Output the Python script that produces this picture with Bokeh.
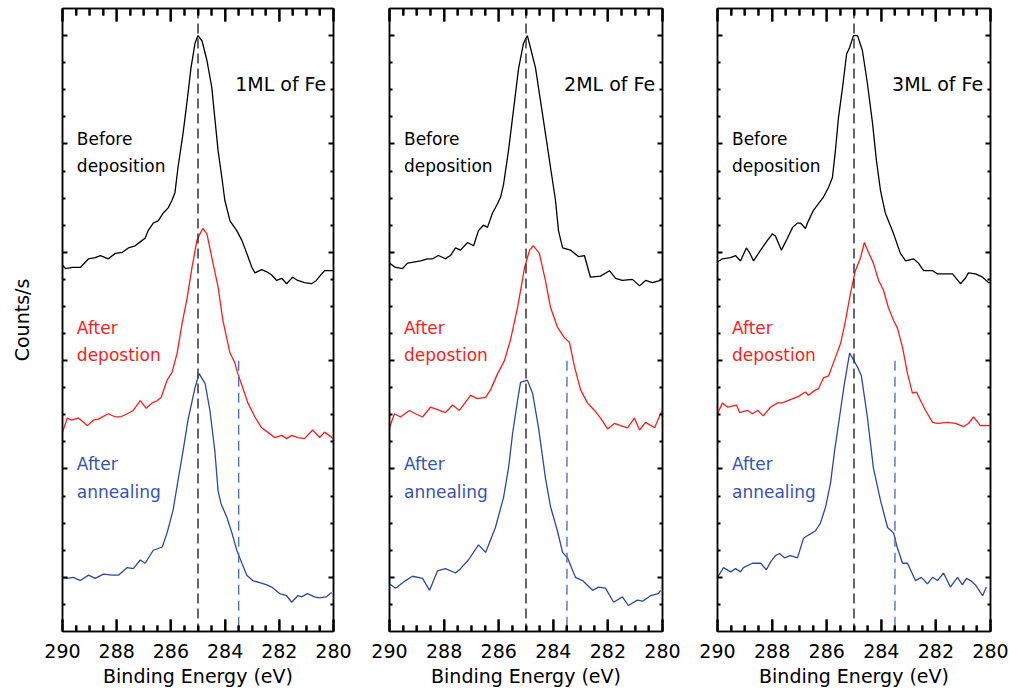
from bokeh.plotting import figure
from bokeh.layouts import row
from bokeh.models import Range1d, LinearAxis, FixedTicker, Label, Span, CustomJSTickFormatter
from bokeh.embed import file_html
from bokeh.resources import INLINE

# ---------------- data (binding energy in eV, intensity in arbitrary counts/s units) ----------------
titles = ["1ML of Fe", "2ML of Fe", "3ML of Fe"]
x_ticks = [280, 282, 284, 286, 288, 290]
peak_ref = 285.0          # black dashed reference line
shoulder_ref = 283.5      # blue dashed reference line
shoulder_top = 2.0

E1_before = [290.00, 289.89, 289.63, 289.34, 289.04, 288.79, 288.60, 288.31, 288.05, 287.79, 287.57, 287.32, 287.06, 286.95, 286.84, 286.65, 286.47, 286.29, 286.10, 285.96, 285.85, 285.74, 285.55, 285.40, 285.26, 285.11, 285.00, 284.85, 284.67, 284.49, 284.38, 284.26, 284.12, 284.01, 283.82, 283.57, 283.38, 283.20, 283.01, 282.90, 282.65, 282.46, 282.28, 282.10, 281.91, 281.73, 281.51, 281.32, 281.07, 280.81, 280.63, 280.44, 280.33, 280.00]
I1_before = [2.88, 2.85, 2.86, 2.86, 2.94, 2.95, 2.97, 2.94, 2.99, 3.00, 3.04, 3.06, 3.11, 3.13, 3.20, 3.27, 3.29, 3.36, 3.41, 3.48, 3.55, 3.78, 4.10, 4.40, 4.70, 4.93, 5.00, 4.95, 4.77, 4.52, 4.24, 3.94, 3.69, 3.48, 3.29, 3.20, 3.11, 2.99, 2.86, 2.81, 2.84, 2.82, 2.79, 2.74, 2.76, 2.71, 2.77, 2.74, 2.72, 2.71, 2.74, 2.80, 2.83, 2.83]
E1_dep = [290.00, 289.82, 289.67, 289.41, 289.08, 288.86, 288.68, 288.31, 288.05, 287.87, 287.61, 287.39, 287.13, 286.91, 286.69, 286.51, 286.36, 286.14, 285.96, 285.77, 285.59, 285.40, 285.22, 285.04, 284.93, 284.82, 284.67, 284.49, 284.26, 284.08, 283.82, 283.64, 283.53, 283.35, 283.16, 282.90, 282.65, 282.43, 282.17, 281.91, 281.73, 281.54, 281.32, 281.07, 280.77, 280.51, 280.33, 280.00]
I1_dep = [1.34, 1.47, 1.45, 1.47, 1.40, 1.45, 1.46, 1.51, 1.48, 1.48, 1.51, 1.54, 1.63, 1.56, 1.61, 1.63, 1.66, 1.82, 1.89, 2.07, 2.34, 2.58, 2.86, 3.11, 3.17, 3.22, 3.17, 2.95, 2.68, 2.37, 2.07, 1.98, 1.88, 1.75, 1.61, 1.48, 1.38, 1.34, 1.29, 1.31, 1.28, 1.31, 1.29, 1.28, 1.36, 1.29, 1.34, 1.28]
E1_ann = [290.00, 289.82, 289.60, 289.34, 289.04, 288.79, 288.49, 288.16, 287.94, 287.61, 287.39, 287.13, 286.95, 286.65, 286.32, 286.14, 285.92, 285.74, 285.55, 285.37, 285.11, 284.96, 284.74, 284.56, 284.38, 284.26, 284.15, 283.93, 283.75, 283.57, 283.38, 283.20, 282.98, 282.72, 282.46, 282.28, 281.99, 281.73, 281.54, 281.32, 281.18, 280.96, 280.70, 280.51, 280.26, 280.07]
I1_ann = [0.00, -0.01, 0.00, -0.03, 0.02, -0.01, 0.03, 0.02, 0.02, 0.09, 0.08, 0.16, 0.13, 0.25, 0.28, 0.41, 0.62, 0.89, 1.17, 1.45, 1.75, 1.88, 1.79, 1.54, 1.17, 0.80, 0.68, 0.55, 0.41, 0.25, 0.13, 0.02, -0.03, -0.05, -0.07, -0.09, -0.15, -0.17, -0.23, -0.17, -0.18, -0.15, -0.18, -0.19, -0.18, -0.14]

E2_before = [290.00, 289.78, 289.52, 289.34, 289.12, 288.86, 288.61, 288.42, 288.21, 287.95, 287.77, 287.58, 287.40, 287.14, 286.92, 286.74, 286.56, 286.41, 286.23, 286.04, 285.93, 285.82, 285.64, 285.46, 285.27, 285.09, 284.95, 284.84, 284.65, 284.47, 284.29, 284.10, 283.92, 283.81, 283.66, 283.37, 283.08, 282.86, 282.64, 282.27, 281.94, 281.72, 281.47, 281.10, 280.84, 280.62, 280.37, 280.07]
I2_before = [2.90, 2.86, 2.85, 2.90, 2.91, 2.92, 2.94, 2.94, 2.97, 2.94, 2.97, 3.04, 3.02, 3.09, 3.06, 3.20, 3.25, 3.23, 3.36, 3.45, 3.51, 3.63, 3.94, 4.31, 4.70, 4.93, 5.00, 4.89, 4.70, 4.40, 4.10, 3.78, 3.48, 3.20, 3.04, 3.02, 2.96, 2.97, 2.77, 2.78, 2.83, 2.76, 2.74, 2.75, 2.69, 2.74, 2.72, 2.74]
E2_dep = [290.00, 289.82, 289.60, 289.27, 289.05, 288.79, 288.50, 288.17, 287.95, 287.69, 287.44, 287.03, 286.78, 286.48, 286.30, 286.04, 285.79, 285.57, 285.31, 285.05, 284.87, 284.73, 284.51, 284.29, 284.10, 283.85, 283.59, 283.41, 283.22, 283.00, 282.75, 282.49, 282.27, 282.01, 281.76, 281.54, 281.28, 281.03, 280.84, 280.62, 280.29, 280.07, 280.00]
I2_dep = [1.38, 1.51, 1.48, 1.54, 1.51, 1.48, 1.57, 1.54, 1.52, 1.59, 1.54, 1.68, 1.65, 1.66, 1.73, 1.88, 2.00, 2.19, 2.49, 2.86, 3.02, 3.06, 2.99, 2.74, 2.49, 2.31, 2.21, 2.17, 1.94, 1.73, 1.61, 1.54, 1.47, 1.37, 1.42, 1.40, 1.38, 1.47, 1.36, 1.43, 1.38, 1.51, 1.54]
E2_ann = [290.00, 289.78, 289.41, 289.16, 288.79, 288.53, 288.24, 287.95, 287.58, 287.40, 287.11, 286.74, 286.48, 286.12, 285.82, 285.64, 285.49, 285.31, 285.20, 284.95, 284.76, 284.54, 284.29, 284.10, 283.85, 283.66, 283.48, 283.19, 282.93, 282.56, 282.34, 282.09, 281.79, 281.47, 281.25, 280.92, 280.73, 280.44, 280.15, 280.07]
I2_ann = [-0.06, -0.10, -0.03, 0.01, -0.01, -0.12, 0.06, 0.08, 0.04, 0.08, 0.16, 0.30, 0.23, 0.46, 0.74, 1.01, 1.33, 1.63, 1.80, 1.82, 1.70, 1.38, 0.92, 0.65, 0.43, 0.23, 0.18, 0.00, -0.03, -0.12, -0.09, -0.10, -0.23, -0.18, -0.26, -0.21, -0.22, -0.17, -0.15, -0.12]

E3_before = [290.00, 289.82, 289.52, 289.34, 289.16, 288.94, 288.83, 288.68, 288.42, 288.17, 287.99, 287.88, 287.66, 287.44, 287.25, 287.07, 286.96, 286.78, 286.67, 286.48, 286.30, 286.12, 285.93, 285.79, 285.68, 285.57, 285.42, 285.27, 285.16, 285.02, 284.87, 284.69, 284.51, 284.32, 284.18, 284.03, 283.85, 283.74, 283.55, 283.30, 283.11, 282.82, 282.64, 282.45, 282.12, 281.94, 281.39, 281.10, 280.92, 280.81, 280.55, 280.29, 280.07, 280.00]
I3_before = [2.91, 2.94, 2.95, 2.97, 2.92, 3.04, 3.00, 2.92, 3.02, 3.11, 3.17, 3.15, 3.02, 3.13, 3.23, 3.27, 3.27, 3.22, 3.29, 3.39, 3.45, 3.51, 3.60, 3.69, 3.94, 4.24, 4.52, 4.83, 4.89, 5.00, 5.00, 4.86, 4.56, 4.19, 3.85, 3.57, 3.36, 3.29, 3.17, 2.99, 2.92, 2.94, 2.90, 2.83, 2.83, 2.80, 2.80, 2.71, 2.76, 2.81, 2.80, 2.77, 2.72, 2.72]
E3_dep = [290.00, 289.82, 289.63, 289.30, 289.19, 288.90, 288.72, 288.53, 288.32, 288.06, 287.80, 287.62, 287.33, 287.03, 286.78, 286.67, 286.41, 286.30, 286.12, 285.93, 285.68, 285.49, 285.31, 285.13, 284.95, 284.76, 284.62, 284.47, 284.29, 284.10, 283.92, 283.74, 283.55, 283.41, 283.22, 283.04, 282.86, 282.71, 282.56, 282.38, 282.12, 281.94, 281.58, 281.28, 280.99, 280.81, 280.62, 280.37, 280.07, 280.00]
I3_dep = [1.51, 1.61, 1.57, 1.59, 1.52, 1.54, 1.51, 1.54, 1.49, 1.57, 1.61, 1.61, 1.64, 1.67, 1.71, 1.68, 1.73, 1.74, 1.84, 1.86, 2.03, 2.16, 2.37, 2.62, 2.83, 2.95, 3.09, 3.00, 2.90, 2.74, 2.65, 2.49, 2.37, 2.30, 2.12, 1.88, 1.70, 1.71, 1.63, 1.54, 1.43, 1.42, 1.43, 1.42, 1.39, 1.42, 1.48, 1.40, 1.40, 1.40]
E3_ann = [290.00, 289.78, 289.52, 289.34, 289.16, 289.05, 288.72, 288.42, 288.21, 288.06, 287.88, 287.73, 287.55, 287.33, 287.07, 286.85, 286.67, 286.41, 286.23, 286.04, 285.86, 285.71, 285.53, 285.35, 285.16, 284.87, 284.73, 284.51, 284.29, 284.03, 283.77, 283.55, 283.41, 283.22, 283.04, 282.75, 282.53, 282.31, 282.12, 281.94, 281.72, 281.47, 281.21, 281.03, 280.88, 280.73, 280.55, 280.29, 280.15]
I3_ann = [0.00, 0.09, 0.05, 0.08, 0.05, 0.09, 0.13, 0.13, 0.07, 0.14, 0.20, 0.22, 0.18, 0.20, 0.18, 0.36, 0.39, 0.43, 0.50, 0.65, 0.87, 1.17, 1.48, 1.79, 2.07, 1.94, 1.86, 1.48, 1.01, 0.71, 0.46, 0.41, 0.27, 0.13, 0.13, -0.03, 0.00, -0.06, 0.00, -0.03, 0.04, -0.09, 0.00, -0.07, -0.01, -0.03, -0.07, -0.17, -0.09]

curves = [
    [(E1_before, I1_before), (E1_dep, I1_dep), (E1_ann, I1_ann)],
    [(E2_before, I2_before), (E2_dep, I2_dep), (E2_ann, I2_ann)],
    [(E3_before, I3_before), (E3_dep, I3_dep), (E3_ann, I3_ann)],
]

# ---------------- styling ----------------
FONT = "DejaVu Sans"
BLACK = "#000000"
RED = "#ff1a1a"
BLUE = "#2c47a3"
BLUE_DASH = "#4d6fc4"
line_colors = [BLACK, RED, BLUE]
label_text = [("Before", "deposition"), ("After", "depostion"), ("After", "annealing")]
label_y = [(4.05, 3.80), (2.30, 2.05), (1.05, 0.79)]

X_LO, X_HI = 280, 290
Y_LO, Y_HI = -0.5, 5.25
x_minor = [X_LO + 0.5 * k for k in range(21) if (X_LO + 0.5 * k) not in x_ticks]
y_major = [0, 1, 2, 3, 4, 5]
y_minor = [Y_LO + 0.25 * k for k in range(1, 23) if (Y_LO + 0.25 * k) not in y_major]

FRAME_H = 623   # plot-frame height in pixels: tick lengths expressed in data units
DY = (Y_HI - Y_LO) / FRAME_H

# figure sizes: (total width, left border, right border)
geoms = [(361, 62, 28), (328, 28, 27), (320, 28, 19)]


def x_axis(labels, tin, tmin):
    ax = LinearAxis(ticker=FixedTicker(ticks=x_ticks, minor_ticks=x_minor))
    ax.major_tick_in = tin
    ax.major_tick_out = 0
    ax.minor_tick_in = tmin
    ax.minor_tick_out = 0
    ax.major_tick_line_color = BLACK
    ax.minor_tick_line_color = BLACK
    ax.major_tick_line_width = 2
    ax.minor_tick_line_width = 2
    ax.axis_line_color = BLACK
    ax.axis_line_width = 1.5
    if labels:
        ax.axis_label = "Binding Energy (eV)"
        ax.axis_label_text_font = FONT
        ax.axis_label_text_font_size = "19px"
        ax.axis_label_text_font_style = "normal"
        ax.axis_label_text_color = BLACK
        ax.axis_label_standoff = 4
        ax.major_label_text_font = FONT
        ax.major_label_text_font_size = "19px"
        ax.major_label_text_color = BLACK
        ax.major_label_standoff = 12
    else:
        ax.formatter = CustomJSTickFormatter(code="return '';")
        ax.major_label_text_font_size = "0px"
        ax.major_label_standoff = 0
    return ax


def y_axis(label):
    ax = LinearAxis(ticker=FixedTicker(ticks=y_major, minor_ticks=y_minor))
    ax.major_tick_in = 5
    ax.major_tick_out = 0
    ax.minor_tick_in = 3
    ax.minor_tick_out = 0
    ax.major_tick_line_color = BLACK
    ax.minor_tick_line_color = BLACK
    ax.major_tick_line_width = 1.8
    ax.minor_tick_line_width = 1.8
    ax.axis_line_color = BLACK
    ax.axis_line_width = 1.5
    ax.formatter = CustomJSTickFormatter(code="return '';")
    ax.major_label_text_font_size = "0px"
    ax.major_label_standoff = 0
    if label:
        ax.axis_label = label
        ax.axis_label_text_font = FONT
        ax.axis_label_text_font_size = "19px"
        ax.axis_label_text_font_style = "normal"
        ax.axis_label_text_color = BLACK
        ax.axis_label_standoff = 30
    return ax


def vticks(p, xs, y_edge, length):
    p.segment(x0=xs, y0=[y_edge] * len(xs), x1=xs, y1=[y_edge + length] * len(xs),
              line_color=BLACK, line_width=2, level="overlay")


figs = []
for i in range(3):
    w, bl, br = geoms[i]
    p = figure(width=w, height=694, x_range=Range1d(X_HI, X_LO), y_range=Range1d(Y_LO, Y_HI),
               output_backend="svg", toolbar_location=None,
               x_axis_location=None, y_axis_location=None,
               min_border_left=bl, min_border_right=br, min_border_top=8, min_border_bottom=63)
    p.grid.visible = False
    p.outline_line_color = BLACK
    p.outline_line_width = 1.5

    p.add_layout(x_axis(True, 12, 6), "below")
    p.add_layout(x_axis(False, 13, 7), "above")
    p.add_layout(y_axis("Counts/s" if i == 0 else None), "left")
    p.add_layout(y_axis(None), "right")

    for (E, I), col in zip(curves[i], line_colors):
        p.line(E, I, line_color=col, line_width=1.3)

    # inward x tick marks on bottom and top edges
    vticks(p, x_ticks, Y_LO, 12 * DY)
    vticks(p, x_minor, Y_LO, 6 * DY)
    vticks(p, x_ticks, Y_HI, -13 * DY)
    vticks(p, x_minor, Y_HI, -7 * DY)

    p.add_layout(Span(location=peak_ref, dimension="height", line_color="#333333",
                      line_width=1.5, line_dash="10 5"))
    p.segment(x0=[shoulder_ref], y0=[shoulder_top], x1=[shoulder_ref], y1=[Y_LO],
              line_color=BLUE_DASH, line_width=1.4, line_dash="10 6")

    for (t1, t2), (y1, y2), col in zip(label_text, label_y, [BLACK, RED, "#3553b3"]):
        for t, yy in ((t1, y1), (t2, y2)):
            p.add_layout(Label(x=289.47, y=yy, text=t, text_font=FONT, text_font_size="17px",
                               text_color=col, text_align="left", text_baseline="middle"))
    p.add_layout(Label(x=280.27, y=4.55, text=titles[i], text_font=FONT, text_font_size="19px",
                       text_color=BLACK, text_align="right", text_baseline="middle"))
    figs.append(p)

layout = row(*figs, spacing=0)
open("out.html", "w").write(file_html(layout, INLINE))
